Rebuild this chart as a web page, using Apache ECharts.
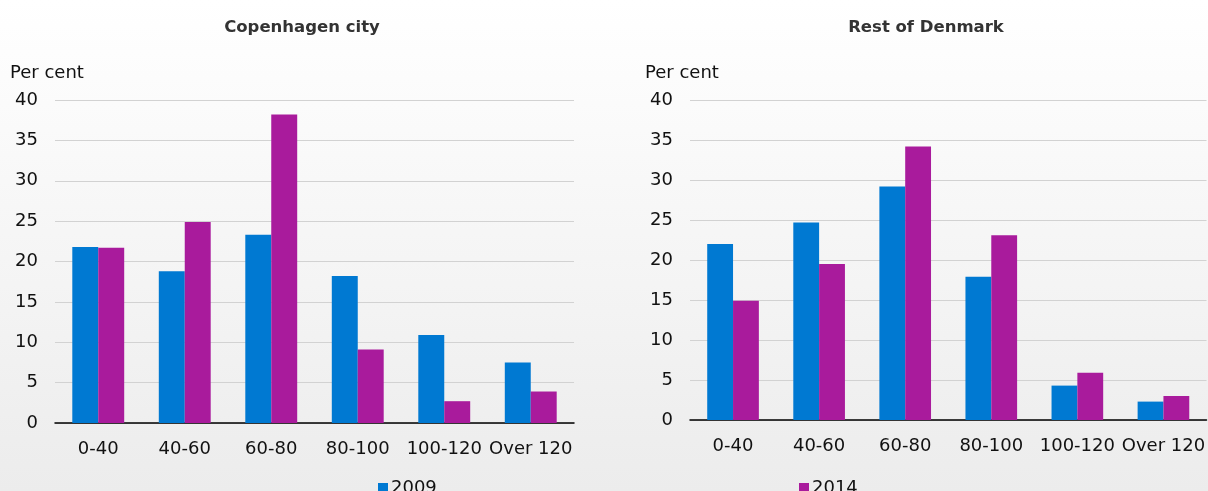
<!DOCTYPE html>
<html>
<head>
<meta charset="utf-8">
<script src="https://cdn.jsdelivr.net/npm/echarts@6/dist/echarts.min.js"></script>
<style>
  html, body { margin: 0; padding: 0; }
  #main { width: 1208px; height: 491px; }
</style>
</head>
<body>
<div id="main"></div>
<script>
var categories = ['0-40', '40-60', '60-80', '80-100', '100-120', 'Over 120'];
var yTicks = [0, 5, 10, 15, 20, 25, 30, 35, 40];

// Copenhagen city
var cph2009 = [21.8, 18.8, 23.3, 18.2, 10.9, 7.5];
var cph2014 = [21.7, 24.9, 38.2, 9.1, 2.7, 3.9];

// Rest of Denmark
var rest2009 = [22.0, 24.7, 29.2, 17.9, 4.3, 2.3];
var rest2014 = [14.9, 19.5, 34.2, 23.1, 5.9, 3.0];

var blue = '#0079d2';
var purple = '#a91b9c';
var font = 'DejaVu Sans';

function xAxisFor(idx) {
    return {
        type: 'category',
        gridIndex: idx,
        data: categories,
        axisLine: { lineStyle: { color: '#000', width: 1.5 } },
        axisTick: { inside: true, length: 6, lineStyle: { color: '#000' } },
        axisLabel: { color: '#111', fontSize: 18, fontFamily: font, margin: 17, interval: 0 }
    };
}

function yAxisFor(idx) {
    return {
        type: 'value',
        gridIndex: idx,
        min: yTicks[0],
        max: yTicks[yTicks.length - 1],
        interval: 5,
        axisLine: { show: false },
        axisTick: { show: false },
        axisLabel: { color: '#111', fontSize: 18, fontFamily: font, margin: 17 },
        splitLine: { lineStyle: { color: '#d2d2d2', width: 1.2 } }
    };
}

function barSeries(name, data, idx, color) {
    return {
        name: name,
        type: 'bar',
        xAxisIndex: idx,
        yAxisIndex: idx,
        data: data,
        barGap: '0%',
        barCategoryGap: '40%',
        itemStyle: { color: color },
        emphasis: { disabled: true }
    };
}

var option = {
    backgroundColor: new echarts.graphic.LinearGradient(0, 0, 0, 1, [
        { offset: 0, color: '#ffffff' },
        { offset: 1, color: '#ececec' }
    ]),
    animation: false,
    title: [
        { text: 'Copenhagen city', left: 302, top: 19, textAlign: 'center', padding: 0,
          textStyle: { fontFamily: font, fontSize: 16.5, fontWeight: 'bold', color: '#333' } },
        { text: 'Rest of Denmark', left: 926, top: 19, textAlign: 'center', padding: 0,
          textStyle: { fontFamily: font, fontSize: 16.5, fontWeight: 'bold', color: '#333' } },
        { text: 'Per cent', left: 10, top: 64, padding: 0,
          textStyle: { fontFamily: font, fontSize: 18, fontWeight: 'normal', color: '#111' } },
        { text: 'Per cent', left: 645, top: 64, padding: 0,
          textStyle: { fontFamily: font, fontSize: 18, fontWeight: 'normal', color: '#111' } }
    ],
    legend: [
        { data: ['2009'], left: 378, top: 479, icon: 'rect', itemWidth: 10, itemHeight: 10, itemGap: 4,
          padding: 0, textStyle: { fontFamily: font, fontSize: 18, color: '#111', padding: [0, 0, 0, -2] } },
        { data: ['2014'], left: 799, top: 479, icon: 'rect', itemWidth: 10, itemHeight: 10, itemGap: 4,
          padding: 0, textStyle: { fontFamily: font, fontSize: 18, color: '#111', padding: [0, 0, 0, -2] } }
    ],
    grid: [
        { left: 55, top: 100, width: 519, height: 323 },
        { left: 690, top: 100, right: 0, height: 320 }
    ],
    xAxis: [xAxisFor(0), xAxisFor(1)],
    yAxis: [yAxisFor(0), yAxisFor(1)],
    series: [
        barSeries('2009', cph2009, 0, blue),
        barSeries('2014', cph2014, 0, purple),
        barSeries('2009', rest2009, 1, blue),
        barSeries('2014', rest2014, 1, purple)
    ]
};

var chart = echarts.init(document.getElementById('main'));
chart.setOption(option);
</script>
</body>
</html>
